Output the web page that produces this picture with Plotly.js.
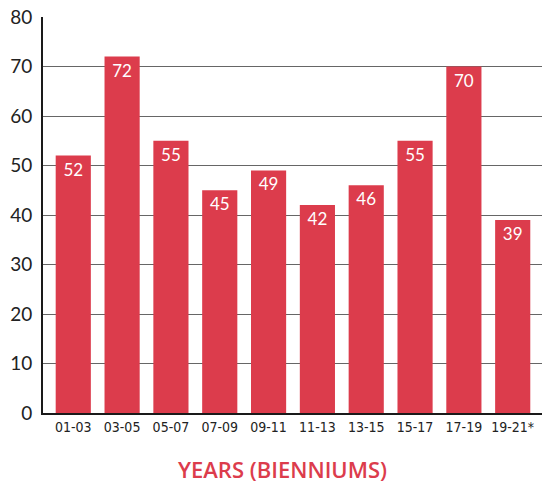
<!DOCTYPE html>
<html><head><meta charset="utf-8">
<script src="https://cdn.plot.ly/plotly-3.0.1.min.js"></script>
<style>html,body{margin:0;padding:0;background:#fff;}#chart{width:545px;height:486px;}</style>
</head><body><div id="chart"></div>
<script>
const categories = ["01-03","03-05","05-07","07-09","09-11","11-13","13-15","15-17","17-19","19-21*"];
const values = [52,72,55,45,49,42,46,55,70,39];
const yTicks = [0,10,20,30,40,50,60,70,80];
const xTitle = 'YEARS (BIENNIUMS)';

const trace = {
  type: 'bar',
  x: categories,
  y: values,
  text: values.map(String),
  textposition: 'inside',
  insidetextanchor: 'end',
  textangle: 0,
  textfont: {color: '#ffffff', size: 17, family: 'Lato, sans-serif'},
  marker: {color: '#dc3c4c', line: {width: 0}},
  cliponaxis: false,
  hoverinfo: 'none'
};

const layout = {
  width: 545, height: 486,
  margin: {l: 43, r: 3, t: 17, b: 73},
  paper_bgcolor: '#ffffff', plot_bgcolor: '#ffffff',
  bargap: 0.28,
  showlegend: false,
  xaxis: {
    type: 'category',
    range: [-0.62, 9.6],
    showline: true, linecolor: '#1a1a1a', linewidth: 2,
    ticks: '', showgrid: false,
    tickfont: {family: '"DejaVu Sans Condensed", sans-serif', size: 14, color: '#222'}
  },
  yaxis: {
    range: [0, 80],
    tickvals: yTicks,
    showline: true, linecolor: '#1a1a1a', linewidth: 2,
    showgrid: true, gridcolor: '#666666', gridwidth: 1,
    zeroline: false,
    ticks: '',
    ticklabelstandoff: 5,
    tickfont: {family: 'Lato, sans-serif', size: 19, color: '#222'}
  },
  annotations: [{
    text: xTitle,
    xref: 'paper', yref: 'paper',
    x: 0.479, y: -0.141,
    xanchor: 'center', yanchor: 'middle',
    showarrow: false,
    font: {family: '"Open Sans", sans-serif', size: 22, weight: 600, color: '#dc3c4c'}
  }]
};

Plotly.newPlot('chart', [trace], layout, {staticPlot: true, displayModeBar: false});
</script>
</body></html>
